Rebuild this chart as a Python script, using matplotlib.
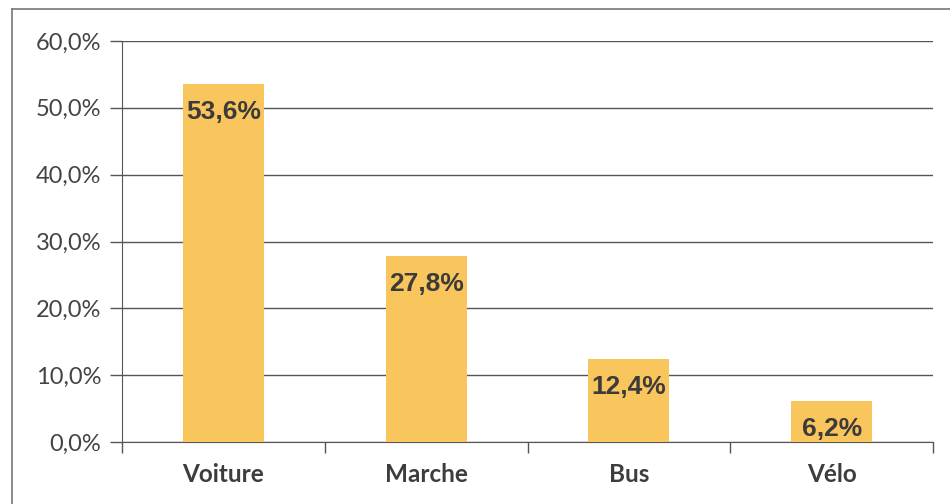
import matplotlib.pyplot as plt
from matplotlib.lines import Line2D
from matplotlib.ticker import FuncFormatter

categories = ['Voiture', 'Marche', 'Bus', 'Vélo']
values = [53.6, 27.8, 12.4, 6.2]
value_labels = ['53,6%', '27,8%', '12,4%', '6,2%']
y_ticks = [0, 10, 20, 30, 40, 50, 60]

W, H = 950, 504
fig = plt.figure(figsize=(W / 100, H / 100), dpi=100)
fig.patch.set_facecolor('white')

# zone du graphique (en pixels convertis)
ax = fig.add_axes([122 / W, (H - 442) / H, (933 - 122) / W, (442 - 41) / H])

x = range(len(categories))
ax.bar(x, values, width=0.4, color='#F8C65C', zorder=3)

# étiquettes de valeurs dans les barres
for i, (v, lab) in enumerate(zip(values, value_labels)):
    ax.annotate(lab, (i, v), xytext=(0, -28), textcoords='offset pixels',
                ha='center', va='center', fontsize=19, fontweight='bold',
                color='#3d3a3a', family='Liberation Sans', zorder=4)

ax.set_ylim(0, 60)
ax.set_xlim(-0.5, len(categories) - 0.5)
ax.set_yticks(y_ticks)
ax.yaxis.set_major_formatter(FuncFormatter(lambda v, p: f'{v:.1f}%'.replace('.', ',')))
ax.yaxis.grid(True, color='#555555', linewidth=1, zorder=1)

ax.set_xticks(list(x))
ax.set_xticklabels(categories)
ax.set_xticks([i - 0.5 for i in range(len(categories) + 1)], minor=True)
ax.tick_params(axis='x', which='major', length=0, pad=15)
ax.tick_params(axis='x', which='minor', length=8, width=1, color='#555555', direction='out')
ax.tick_params(axis='y', length=9, width=1, color='#555555', pad=6)

for t in ax.get_yticklabels():
    t.set_family('Lato')
    t.set_fontsize(17)
    t.set_color('#444444')
for t in ax.get_xticklabels():
    t.set_family('Lato')
    t.set_fontweight('bold')
    t.set_fontsize(17.5)
    t.set_color('#3d3d3d')

for s in ['top', 'right']:
    ax.spines[s].set_visible(False)
ax.spines['left'].set_color('#555555')
ax.spines['bottom'].set_color('#555555')

# cadre extérieur
fig.add_artist(Line2D([12 / W, 12 / W], [0, 1 - 9 / H], transform=fig.transFigure,
                      color='#777777', linewidth=1.2))
fig.add_artist(Line2D([12 / W, 1], [1 - 9 / H, 1 - 9 / H], transform=fig.transFigure,
                      color='#777777', linewidth=1.2))

fig.savefig('out.png', dpi=100)
